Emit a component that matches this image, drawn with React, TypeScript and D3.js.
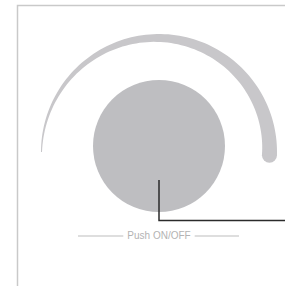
import * as d3 from 'd3'
import { useEffect, useRef } from 'react'

// dial arc: angle (radians, 0 = 12 o'clock) and stroke thickness in px
const arcAngles = [-Math.PI / 2, Math.PI / 2 + 0.03]
const arcThickness = [1, 15]
const knobLabel = ['Push ON/OFF']

const App = () => {
  const ref = useRef<SVGSVGElement>(null)

  useEffect(() => {
    if (!ref.current) return
    const width = 285
    const height = 286
    const cx = 159
    const cy = 146
    const arcCy = 152
    const outerR = 118

    const svg = d3.select(ref.current)
      .attr('width', width)
      .attr('height', height)

    const g = svg.append('g')

    // frame
    g.append('path')
      .attr('d', `M17.5,${height}V5.5H${width}`)
      .attr('fill', 'none')
      .attr('stroke', '#c9c9c9')
      .attr('stroke-width', 1.5)

    // tapered arc
    const thick = d3.scaleLinear().domain(arcAngles).range(arcThickness)
    const steps = d3.range(0, 1.0001, 0.01).map(t => arcAngles[0] + t * (arcAngles[1] - arcAngles[0]))
    const area = d3.areaRadial<number>()
      .angle(d => d)
      .outerRadius(outerR)
      .innerRadius(d => outerR - thick(d))
      .curve(d3.curveLinear)

    const arcG = g.append('g').attr('transform', `translate(${cx},${arcCy})`)
    arcG.append('path')
      .attr('d', area(steps) as string)
      .attr('fill', '#c8c7ca')

    // round cap at the end
    const endA = arcAngles[1]
    const endT = thick(endA)
    const capR = outerR - endT / 2
    arcG.append('circle')
      .attr('cx', Math.sin(endA) * capR)
      .attr('cy', -Math.cos(endA) * capR)
      .attr('r', endT / 2)
      .attr('fill', '#c8c7ca')

    // knob
    g.append('circle')
      .attr('cx', cx)
      .attr('cy', cy)
      .attr('r', 66)
      .attr('fill', '#bebec1')

    // leader line
    g.append('path')
      .attr('d', `M${cx},180V220.5H${width}`)
      .attr('fill', 'none')
      .attr('stroke', '#2b2b2b')
      .attr('stroke-width', 1.5)

    // label
    const label = g.append('text')
      .attr('x', cx)
      .attr('y', 239)
      .attr('text-anchor', 'middle')
      .attr('font-family', 'Liberation Sans, Arial, sans-serif')
      .attr('font-size', 10)
      .attr('fill', '#b3b3b3')
      .text(knobLabel[0])

    const bb = (label.node() as SVGTextElement).getBBox()
    g.append('line')
      .attr('x1', 78).attr('x2', bb.x - 4)
      .attr('y1', 236).attr('y2', 236)
      .attr('stroke', '#bdbdbd').attr('stroke-width', 1)
    g.append('line')
      .attr('x1', bb.x + bb.width + 4).attr('x2', 239)
      .attr('y1', 236).attr('y2', 236)
      .attr('stroke', '#bdbdbd').attr('stroke-width', 1)

    return () => {
      g.remove()
    }
  }, [])

  return (
    <svg ref={ref} style={{ position: 'absolute', left: 0, top: 0, background: '#fff' }} />
  )
}

export default App
